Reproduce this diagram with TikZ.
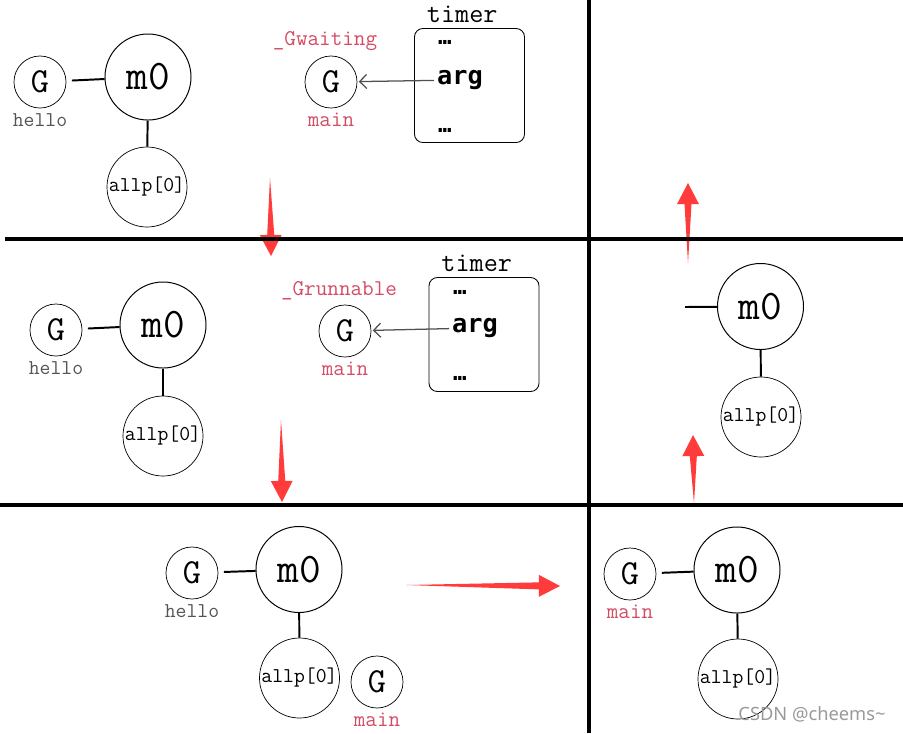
\documentclass[tikz,border=0pt]{standalone}
\usepackage{fontspec}
\usetikzlibrary{arrows.meta,calc}
\newfontfamily\argfont{DejaVu Sans Mono}
\newfontfamily\wmfont{Noto Sans}
\definecolor{labelred}{RGB}{212,76,100}
\definecolor{arrowred}{RGB}{255,59,59}
\definecolor{hellogray}{RGB}{85,85,85}
\definecolor{argline}{RGB}{80,80,80}
\newcommand\redarrow[2]{%
  \fill[arrowred] (#1) -- ($(#2)!15pt!(#1)!2.5pt!90:(#2)$)
    -- ($(#2)!15pt!(#1)!7.8pt!90:(#2)$) -- (#2)
    -- ($(#2)!15pt!(#1)!-7.8pt!90:(#2)$)
    -- ($(#2)!15pt!(#1)!-2.5pt!90:(#2)$) -- cycle;}

\begin{document}
\begin{tikzpicture}[x=0.025cm,y=-0.025cm,
        gnode/.style={circle,draw,line width=0.5pt,minimum size=1.3cm,inner sep=0pt,
          font=\ttfamily\fontsize{25}{25}\selectfont},
        mnode/.style={circle,draw,line width=0.7pt,minimum size=2.15cm,inner sep=0pt,
          font=\ttfamily\fontsize{30}{30}\selectfont},
        pnode/.style={circle,draw,line width=0.5pt,minimum size=2cm,inner sep=0pt,
          font=\ttfamily\fontsize{15}{15}\selectfont},
        hellolbl/.style={label={[hellogray,label distance=0pt,
          font=\ttfamily\fontsize{15}{15}\selectfont]below:hello}},
        mainlbl/.style={label={[labelred,label distance=0pt,
          font=\ttfamily\fontsize{16}{16}\selectfont]below:main}},
        statelbl/.style={label={[labelred,label distance=0pt,xshift=-0.15cm,
          font=\ttfamily\fontsize{16}{16}\selectfont]above:#1}},
        timerbox/.style={draw,line width=0.6pt,rounded corners=6pt,
          minimum width=2.75cm,minimum height=2.85cm,
          label={[xshift=-0.18cm,label distance=0pt,
          font=\ttfamily\fontsize{19.5}{19.5}\selectfont]above:timer}},
        dots/.style={font=\argfont\bfseries\fontsize{16}{16}\selectfont,inner sep=1pt},
        argtext/.style={font=\argfont\bfseries\fontsize{18}{18}\selectfont,inner sep=2pt},
        link/.style={line width=1.4pt},
        argarrow/.style={argline,line width=0.9pt,-{Straight Barb[length=5pt,width=10pt]},
          shorten >=1pt},
        gridline/.style={line width=3.5pt}]
  \useasboundingbox (0,0) rectangle (903,733);
  % panel 1
  \node[gnode,hellolbl] (g1) at (40,82) {G};
  \node[mnode] (m1) at (148,77) {m0};
  \node[pnode] (p1) at (147,187) {allp[0]};
  \node[gnode,mainlbl,statelbl=\_Gwaiting] (gm1) at (331,82) {G};
  \node[timerbox] (t1) at (469.5,85.5) {};
  \node[dots] (t1a) at (445,42) {…};
  \node[argtext] (arg1) at (460,80) {arg};
  \node[dots] (t1b) at (445,130) {…};
  \draw[link,shorten <=4pt] (g1) -- (m1);
  \draw[link] (m1) -- (p1);
  \draw[argarrow] (arg1) -- (gm1);
  % panel 2
  \node[gnode,hellolbl] (g2) at (56,330) {G};
  \node[mnode] (m2) at (163,325) {m0};
  \node[pnode] (p2) at (163,436) {allp[0]};
  \node[gnode,mainlbl,statelbl=\_Grunnable] (gm2) at (345,331) {G};
  \node[timerbox] (t2) at (484,334.5) {};
  \node[dots] (t2a) at (460,292) {…};
  \node[argtext] (arg2) at (475,328) {arg};
  \node[dots] (t2b) at (460,378) {…};
  \draw[link,shorten <=4pt] (g2) -- (m2);
  \draw[link] (m2) -- (p2);
  \draw[argarrow] (arg2) -- (gm2);
  % panel 3
  \node[gnode,hellolbl] (g3) at (192,573) {G};
  \node[mnode] (m3) at (299,569.5) {m0};
  \node[pnode] (p3) at (299.5,678) {allp[0]};
  \node[gnode,mainlbl] (gm3) at (377,682) {G};
  \draw[link,shorten <=4pt] (g3) -- (m3);
  \draw[link] (m3) -- (p3);
  % panel 4
  \node[gnode,mainlbl] (g4) at (630,574) {G};
  \node[mnode] (m4) at (737,570) {m0};
  \node[pnode] (p4) at (738,679) {allp[0]};
  \draw[link,shorten <=4pt] (g4) -- (m4);
  \draw[link] (m4) -- (p4);
  % panel 5
  \coordinate (d5) at (685,307);
  \node[mnode] (m5) at (760.5,306.5) {m0};
  \node[pnode] (p5) at (761,417) {allp[0]};
  \draw[link] (d5) -- (m5);
  \draw[link] (m5) -- (p5);
  % red arrows
  \coordinate (r1s) at (270,178);  \coordinate (r1e) at (271,256);
  \coordinate (r2s) at (281,420);  \coordinate (r2e) at (282,502);
  \coordinate (r3s) at (406,585);  \coordinate (r3e) at (560,586);
  \coordinate (r4s) at (694,503);  \coordinate (r4e) at (693,435);
  \coordinate (r5s) at (688,263);  \coordinate (r5e) at (688,183);
  \redarrow{r1s}{r1e}
  \redarrow{r2s}{r2e}
  \redarrow{r3s}{r3e}
  \redarrow{r4s}{r4e}
  \redarrow{r5s}{r5e}
  % grid
  \draw[gridline] (5,239) -- (903,239);
  \draw[gridline] (0,505) -- (903,505);
  \draw[gridline] (589,0) -- (589,733);
  \node[text=black!40,font=\wmfont\fontsize{13}{13}\selectfont] (wm) at (812,714) {CSDN @cheems\textasciitilde};
\end{tikzpicture}
\end{document}
